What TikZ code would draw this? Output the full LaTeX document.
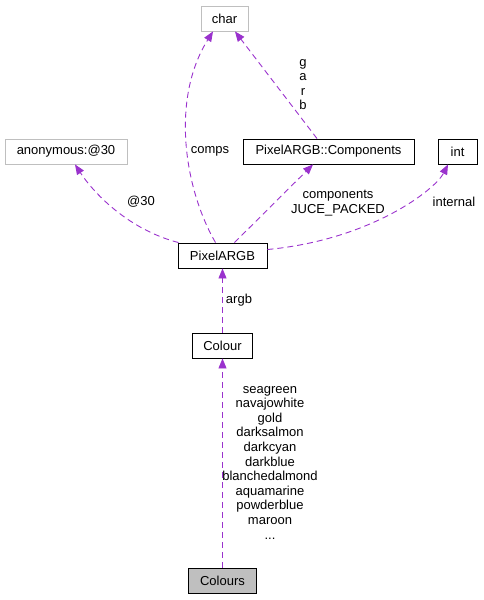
\documentclass[tikz,border=0pt]{standalone}
\usepackage{fontspec}
\setmainfont{Liberation Sans}
\usetikzlibrary{arrows.meta}
\definecolor{edgepurple}{HTML}{9A32CD}
\definecolor{boxgray}{HTML}{BFBFBF}
\begin{document}
\begin{tikzpicture}[x=1pt,y=-1pt,
  font=\fontsize{13}{14.6}\selectfont,
  cls/.style={draw=black,line width=0.9pt,inner sep=0pt,minimum height=25pt,fill=white},
  ext/.style={draw=boxgray,line width=0.9pt,inner sep=0pt,minimum height=25pt,fill=white},
  dep/.style={draw=edgepurple,line width=0.9pt,dash pattern=on 6pt off 4pt,-{Triangle[length=10pt,width=8pt]},color=edgepurple},
  lbl/.style={inner sep=0pt,align=center,text=black}]
\useasboundingbox (0,0) rectangle (483,600);
\node[ext,minimum width=47pt] (char) at (224.5,18.5) {char};
\node[ext,minimum width=122pt] (anon) at (66,151.5) {anonymous:@30};
\node[cls,minimum width=171pt] (comp) at (328.5,151.5) {PixelARGB::Components};
\node[cls,minimum width=39pt] (int) at (457.5,151.5) {int};
\node[cls,minimum width=89pt] (pixel) at (222.5,255.5) {PixelARGB};
\node[cls,minimum width=60pt] (colour) at (222.5,345.5) {Colour};
\node[cls,fill=boxgray,minimum width=68pt] (colours) at (222.5,580.5) {Colours};

\draw[dep] ([xshift=-7pt]pixel.north) .. controls (185,190) and (170,100) .. ([xshift=-11.5pt]char.south);
\draw[dep] ([xshift=-11.5pt]comp.north) -- ([xshift=10.5pt]char.south);
\draw[dep] ([xshift=-44pt]pixel.north) .. controls (130,230) and (95,195) .. ([xshift=9pt]anon.south);
\draw[dep] ([xshift=12pt]pixel.north) -- ([xshift=-15.5pt]comp.south);
\draw[dep] ([yshift=6pt]pixel.east) .. controls (370,240) and (435,190) .. ([xshift=-9.5pt]int.south);
\draw[dep] (colour) -- (pixel);
\draw[dep] (colours) -- (colour);

\node[lbl] (lcomps) at (210,151) {comps};
\node[lbl] (lgarb) at (303,84.5) {g\\a\\r\\b};
\node[lbl] (l30) at (141,202) {@30};
\node[lbl] (lcomponents) at (338,203) {components\\JUCE\_PACKED};
\node[lbl] (linternal) at (454,202) {internal};
\node[lbl] (largb) at (239,300) {argb};
\node[lbl] (lcolours) at (270,462.5) {seagreen\\navajowhite\\gold\\darksalmon\\darkcyan\\darkblue\\blanchedalmond\\aquamarine\\powderblue\\maroon\\...};
\end{tikzpicture}
\end{document}
